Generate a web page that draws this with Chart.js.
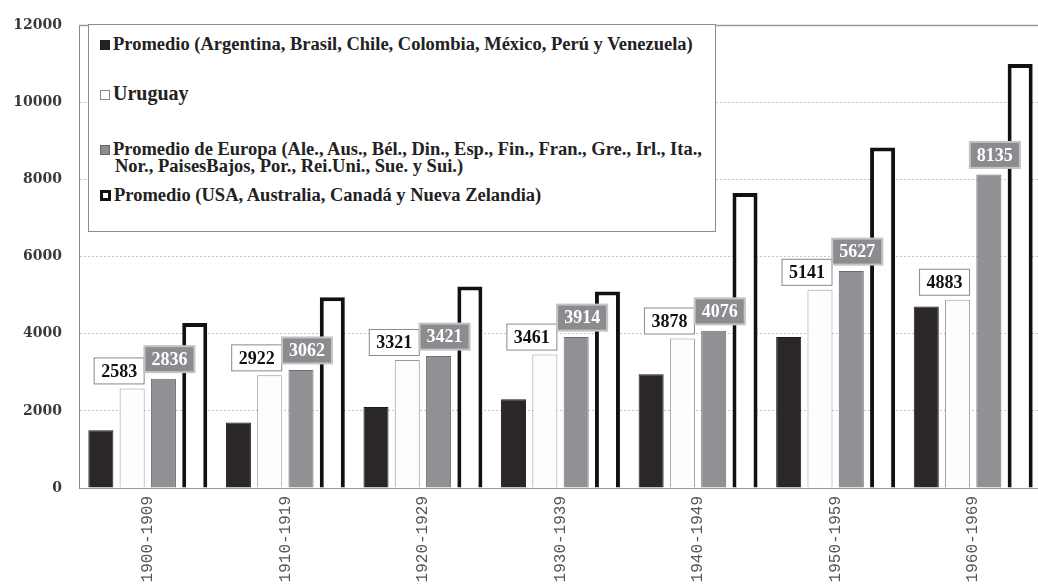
<!DOCTYPE html>
<html>
<head>
<meta charset="utf-8">
<script src="https://cdn.jsdelivr.net/npm/chart.js@4.4.1/dist/chart.umd.min.js"></script>
<style>
  body { margin: 0; overflow: hidden; background: #fff; }
  #wrap { position: relative; width: 1042px; height: 587px; }
  #legend {
    position: absolute; left: 88px; top: 24px; width: 626px; height: 206px;
    border: 1px solid #8c8c8c; background: #fff;
    font-family: "Liberation Serif", serif; font-weight: bold; color: #222;
  }
  .item { position: absolute; left: 11px; line-height: 17px; white-space: nowrap; }
  .sw { display: inline-block; width: 10px; height: 10px; box-sizing: border-box; margin-right: 3px; vertical-align: 0px; }
</style>
</head>
<body>
<div id="wrap">
  <canvas id="gdpChart"></canvas>
  <div id="legend"></div>
</div>
<script>
// PIB per cápita por década
const periods = ['1900-1909', '1910-1919', '1920-1929', '1930-1939', '1940-1949', '1950-1959', '1960-1969'];
const latamAvg = [1500, 1700, 2100, 2300, 2950, 3920, 4710];
const uruguay = [2583, 2922, 3321, 3461, 3878, 5141, 4883];
const europeAvg = [2836, 3062, 3421, 3914, 4076, 5627, 8135];
const offshootsAvg = [4280, 4950, 5230, 5100, 7650, 8830, 11000];
const yTicks = [0, 2000, 4000, 6000, 8000, 10000, 12000];

const seriesNames = [
    ['Promedio (Argentina, Brasil, Chile, Colombia, México, Perú y Venezuela)'],
    ['Uruguay'],
    ['Promedio de Europa (Ale., Aus., Bél., Din., Esp., Fin., Fran., Gre., Irl., Ita.,',
     'Nor., PaisesBajos, Por., Rei.Uni., Sue. y Sui.)'],
    ['Promedio (USA, Australia, Canadá y Nueva Zelandia)']
];

// bar looks
const fills = ['#2b2629', '#fdfdfd', '#939095', '#ffffff'];
const borders = ['#1d1a1c', '#9a9a9a', '#6f6c70', '#111111'];
const borderWidths = [1, 1, 1, 4];

// legend placement inside its box
const legendTops = [11, 60, 116, 162];
const legendSizes = [18.5, 20, 18.5, 18.5];
const swatchStyles = [
    'background:#222;',
    'background:#fff;border:1px solid #888;',
    'background:#8f8c91;border:1px solid #666;',
    'background:#fff;border:3px solid #111;width:11px;height:11px;'
];

const legendBox = document.getElementById('legend');
seriesNames.forEach((lines, i) => {
    const item = document.createElement('div');
    item.className = 'item';
    item.style.top = legendTops[i] + 'px';
    item.style.fontSize = legendSizes[i] + 'px';
    lines.forEach((text, j) => {
        const row = document.createElement('div');
        if (j === 0) {
            const sw = document.createElement('span');
            sw.className = 'sw';
            sw.style.cssText += swatchStyles[i];
            row.appendChild(sw);
        } else {
            row.style.marginLeft = '15px';
        }
        row.appendChild(document.createTextNode(text));
        item.appendChild(row);
    });
    legendBox.appendChild(item);
});

// value boxes over the Uruguay and Europe bars
const valueBoxes = {
    id: 'valueBoxes',
    afterDatasetsDraw(chart) {
        const ctx = chart.ctx;
        const specs = {
            1: { dx: -13, gap: 4, fill: '#ffffff', stroke: '#8a8a8a', text: '#111', lw: 1 },
            2: { dx: 6, gap: 6, fill: '#8e8b90', stroke: '#c4c4c4', text: '#ffffff', lw: 2 }
        };
        ctx.save();
        ctx.font = 'bold 18px "Liberation Serif", serif';
        ctx.textAlign = 'center';
        ctx.textBaseline = 'middle';
        Object.keys(specs).forEach(k => {
            const s = specs[k];
            const ds = chart.data.datasets[k];
            chart.getDatasetMeta(k).data.forEach((bar, i) => {
                const w = 51, h = 27;
                const cx = bar.x + s.dx;
                const top = bar.y - s.gap - h;
                ctx.fillStyle = s.fill;
                ctx.fillRect(cx - w / 2, top, w, h);
                ctx.lineWidth = s.lw;
                ctx.strokeStyle = s.stroke;
                ctx.strokeRect(cx - w / 2 + 0.5, top + 0.5, w - 1, h - 1);
                ctx.fillStyle = s.text;
                ctx.fillText(String(ds.data[i]), cx, top + h / 2 + 1);
            });
        });
        ctx.restore();
    }
};

// solid line along the top of the plot
const topFrame = {
    id: 'topFrame',
    beforeDatasetsDraw(chart) {
        const { ctx, chartArea } = chart;
        ctx.save();
        ctx.strokeStyle = '#999';
        ctx.lineWidth = 1.5;
        ctx.beginPath();
        ctx.moveTo(chartArea.left, chartArea.top);
        ctx.lineTo(chartArea.right, chartArea.top);
        ctx.stroke();
        ctx.restore();
    }
};

const seriesData = [latamAvg, uruguay, europeAvg, offshootsAvg];

const gdpCtx = document.getElementById('gdpChart').getContext('2d');
const gdpChart = new Chart(gdpCtx, {
    type: 'bar',
    data: {
        labels: periods,
        datasets: seriesData.map((d, i) => ({
            label: seriesNames[i].join(' '),
            data: d,
            backgroundColor: fills[i],
            borderColor: borders[i],
            borderWidth: borderWidths[i],
            categoryPercentage: 0.91,
            barPercentage: 0.8
        }))
    },
    options: {
        responsive: true,
        maintainAspectRatio: false,
        animation: false,
        layout: { padding: { top: 22, right: 0, left: 0, bottom: 0 } },
        scales: {
            x: {
                grid: { display: false, drawTicks: false },
                border: { color: '#999', width: 1 },
                ticks: {
                    minRotation: 90,
                    maxRotation: 90,
                    padding: 8,
                    color: '#555',
                    font: { family: '"Liberation Mono", monospace', size: 16 }
                },
                afterFit(scale) { scale.height = 99; }
            },
            y: {
                min: 0,
                max: 12000,
                afterBuildTicks(scale) { scale.ticks = yTicks.map(v => ({ value: v })); },
                grid: { color: '#c4c4c4', drawTicks: false },
                border: { color: '#888', width: 1, dash: [2, 2] },
                ticks: {
                    padding: 17,
                    color: '#3a3a3a',
                    font: { family: '"DejaVu Serif", serif', size: 14, weight: 'bold' },
                    callback: v => String(v)
                },
                afterFit(scale) { scale.width = 79; }
            }
        },
        plugins: {
            legend: { display: false },
            tooltip: { enabled: false }
        }
    },
    plugins: [topFrame, valueBoxes]
});
</script>
</body>
</html>
